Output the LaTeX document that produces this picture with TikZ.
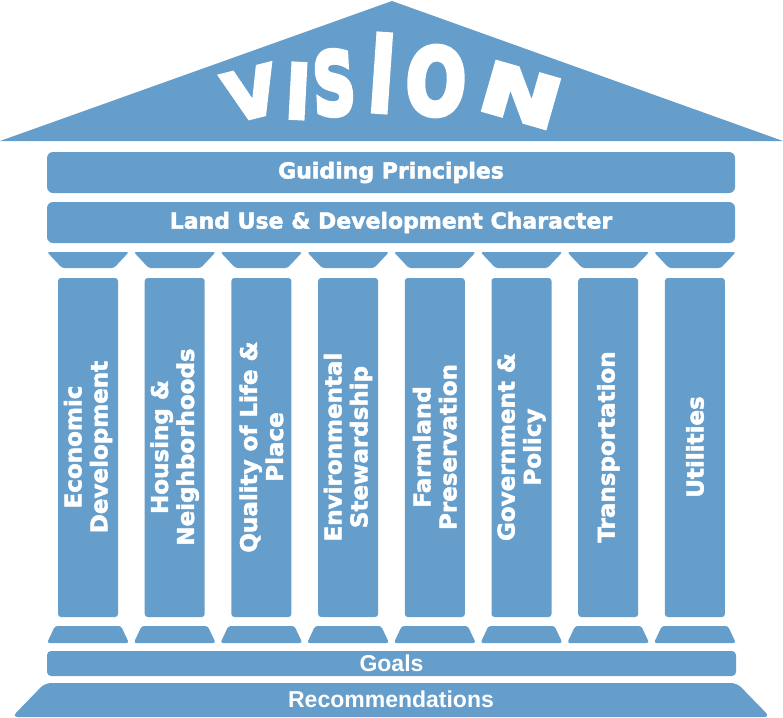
\documentclass[tikz,border=0pt]{standalone}
\usepackage{fontspec}
\usepackage{graphicx}
\setmainfont{Liberation Sans}
\newfontfamily\heavyfont{DejaVu Sans Bold}[FakeBold=2.2]
\newfontfamily\visfont{DejaVu Sans Bold}[FakeBold=6]
\usetikzlibrary{calc}
\definecolor{pillar}{RGB}{102,158,203}

\begin{document}
\begin{tikzpicture}[
        x=1pt, y=-1pt,
        block/.style={fill=pillar, draw=none},
        bar/.style={block, rounded corners=6pt},
        barlabel/.style={text=white, font=\heavyfont\fontsize{22}{24}\selectfont},
        baselabel/.style={text=white, font=\bfseries\fontsize{23}{26}\selectfont},
        collabel/.style={text=white, rotate=90, align=center, font=\heavyfont\fontsize{23}{26}\selectfont},
        letter/.style={text=white, inner sep=0pt, font=\visfont}
    ]
        \useasboundingbox (0,0) rectangle (783,717);

% Roof
        \fill[block] (0,141) -- (392,1) -- (783,141) -- cycle;

% Roof lettering
        \node[letter, rotate=14] (visV) at (251,93) {\resizebox{52pt}{48pt}{V}};
        \node[letter, rotate=-3] (visIa) at (298,91) {\resizebox{24pt}{54pt}{I}};
        \node[letter, rotate=3] (visS) at (334,83) {\resizebox{42pt}{64pt}{S}};
        \node[letter, rotate=-4] (visIb) at (382,73) {\resizebox{25pt}{76pt}{I}};
        \node[letter, rotate=-4] (visO) at (436,81) {\resizebox{60pt}{68pt}{O}};
        \node[letter, rotate=-16] (visN) at (521,95) {\resizebox{80pt}{50pt}{N}};

% Entablature bars
        \fill[bar] (47,152) rectangle (735,193);
        \node[barlabel] (guiding) at (391,172.5) {Guiding Principles};
        \fill[bar] (47,202) rectangle (735,243);
        \node[barlabel] (landuse) at (391,222.5) {Land Use \& Development Character};

% Columns: capital, shaft, base
        \foreach \i/\name/\txt in {0/econ/{Economic\\Development},
                1/housing/{Housing \&\\Neighborhoods},
                2/quality/{Quality of Life \&\\Place},
                3/environ/{Environmental\\Stewardship},
                4/farmland/{Farmland\\Preservation},
                5/govern/{Government \&\\Policy},
                6/transport/{Transportation},
                7/utilities/{Utilities}} {
            \pgfmathsetmacro{\cx}{88+86.7*\i}
            \fill[block, rounded corners=2.5pt] (\cx-41,252) -- (\cx+41,252) -- (\cx+26,268) -- (\cx-26,268) -- cycle;
            \fill[block, rounded corners=3pt] (\cx-30,278) rectangle (\cx+30,617);
            \fill[block, rounded corners=2.5pt] (\cx-33,626) -- (\cx+33,626) -- (\cx+41,643) -- (\cx-41,643) -- cycle;
            \node[collabel] (\name) at (\cx,447) {\txt};
        }

% Foundation
        \fill[bar, rounded corners=4pt] (47,651) rectangle (736,676);
        \node[baselabel] (goals) at (391.5,663.5) {Goals};
        \fill[block, rounded corners=6pt] (45,683) -- (737,683) -- (770,717) -- (12,717) -- cycle;
        \node[baselabel] (recs) at (391,699.5) {Recommendations};
    \end{tikzpicture}
\end{document}
